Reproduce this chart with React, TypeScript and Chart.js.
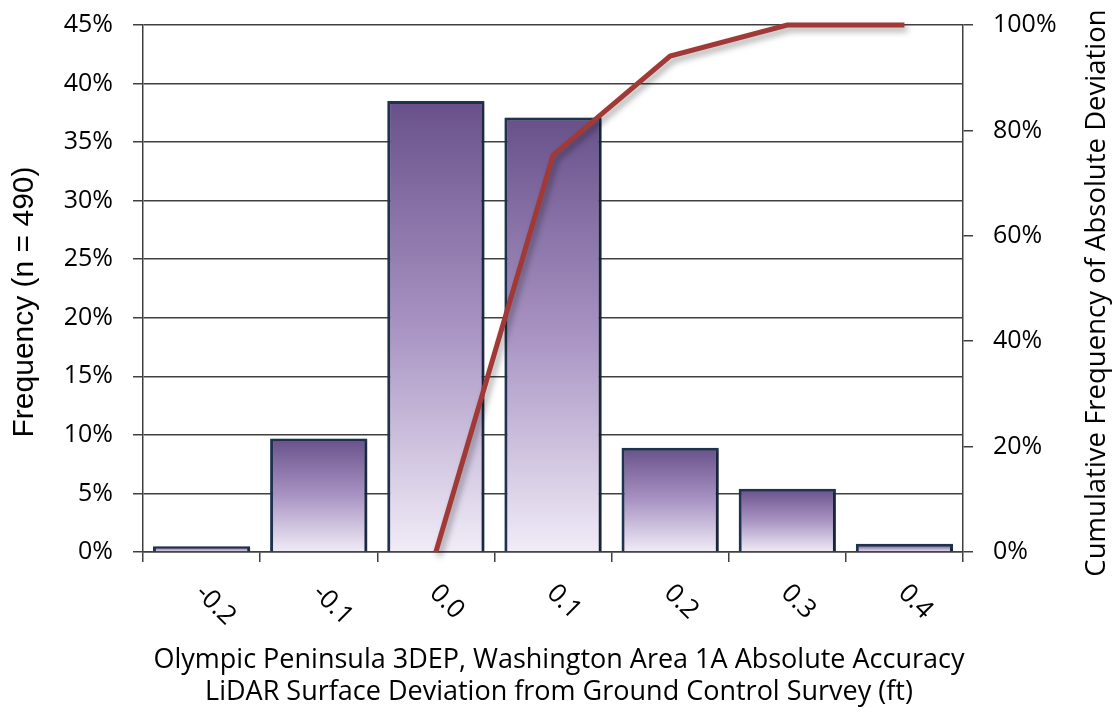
import React, { useEffect, useRef } from "react";
import { Chart, registerables } from "chart.js";

Chart.register(...registerables);

const categories = ["-0.2", "-0.1", "0.0", "0.1", "0.2", "0.3", "0.4"];
const frequency = [0.5, 9.7, 38.5, 37.1, 8.9, 5.4, 0.7];
const cumulative = [null, null, 0, 75.3, 94.1, 100, 100];
const xTitle = [
  "Olympic Peninsula 3DEP, Washington Area 1A Absolute Accuracy",
  "LiDAR Surface Deviation from Ground Control Survey (ft)",
];
const yTitle = "Frequency (n = 490)";
const y1Title = "Cumulative Frequency of Absolute Deviation";

const FONT = "'Open Sans', 'Noto Sans', sans-serif";

const shadowPlugin = {
  id: "shadows",
  beforeDatasetDraw(chart: any, args: any) {
    const ctx = chart.ctx;
    ctx.save();
    if (args.meta.type === "line") {
      ctx.shadowColor = "rgba(0,0,0,0.35)";
      ctx.shadowBlur = 6;
      ctx.shadowOffsetX = 3;
      ctx.shadowOffsetY = 4;
    } else {
      ctx.shadowColor = "rgba(0,0,0,0.45)";
      ctx.shadowBlur = 3;
      ctx.shadowOffsetX = 2;
      ctx.shadowOffsetY = 1;
    }
  },
  afterDatasetDraw(chart: any) {
    chart.ctx.restore();
  },
};

const labelPlugin = {
  id: "customLabels",
  afterDraw(chart: any) {
    const ctx = chart.ctx;
    const xs = chart.scales.x;
    const area = chart.chartArea;
    ctx.save();
    ctx.fillStyle = "#000";
    ctx.font = `26px ${FONT}`;
    ctx.textAlign = "left";
    ctx.textBaseline = "middle";
    categories.forEach((c, i) => {
      const px = xs.getPixelForValue(i);
      ctx.save();
      ctx.translate(px - 2, area.bottom + 37);
      ctx.rotate(Math.PI / 4);
      ctx.fillText(c, 0, 0);
      ctx.restore();
    });
    // x axis title (two lines)
    ctx.font = `27px ${FONT}`;
    ctx.textAlign = "center";
    xTitle.forEach((line, i) => {
      ctx.fillText(line, 559, 660 + i * 32);
    });
    // right axis title (reads bottom to top)
    ctx.font = `27.5px ${FONT}`;
    ctx.save();
    ctx.translate(1097, 293);
    ctx.rotate(-Math.PI / 2);
    ctx.textAlign = "center";
    ctx.fillText(y1Title, 0, 0);
    ctx.restore();
    // left axis title
    ctx.font = `30px 'Liberation Sans', Arial, sans-serif`;
    ctx.save();
    ctx.translate(25, 302);
    ctx.rotate(-Math.PI / 2);
    ctx.textAlign = "center";
    ctx.fillText(yTitle, 0, 0);
    ctx.restore();
    ctx.restore();
  },
};

function barGradient(context: any) {
  const chart = context.chart;
  if (!chart.chartArea || context.type !== "data") return "#9a88b8";
  const ys = chart.scales.y;
  const top = ys.getPixelForValue(context.raw);
  const bottom = ys.getPixelForValue(0);
  const g = chart.ctx.createLinearGradient(0, top, 0, bottom + 0.01);
  g.addColorStop(0, "#68518a");
  g.addColorStop(0.5, "#a893c3");
  g.addColorStop(1, "#f1ecf7");
  return g;
}

export default function App() {
  const ref = useRef<HTMLCanvasElement | null>(null);
  useEffect(() => {
    if (!ref.current) return;
    const chart = new Chart(ref.current, {
      type: "bar",
      data: {
        labels: categories,
        datasets: [
          {
            type: "line",
            data: cumulative as any,
            yAxisID: "y1",
            borderColor: "#a13a36",
            borderWidth: 5,
            pointRadius: 0,
            tension: 0,
            order: 0,
            clip: false as any,
            borderCapStyle: "butt",
          },
          {
            type: "bar",
            data: frequency,
            yAxisID: "y",
            backgroundColor: barGradient as any,
            borderColor: "#1f324f",
            borderWidth: 3,
            barPercentage: 0.83,
            categoryPercentage: 1,
            order: 1,
          },
        ],
      },
      options: {
        animation: false,
        responsive: true,
        maintainAspectRatio: false,
        layout: { padding: { top: 25, left: 0, right: 0, bottom: 0 } },
        plugins: { legend: { display: false }, tooltip: { enabled: false } },
        scales: {
          x: {
            type: "category",
            offset: true,
            grid: {
              display: true,
              offset: true,
              drawOnChartArea: false,
              drawTicks: true,
              tickLength: 10,
              color: "#404040",
              lineWidth: 1.5,
            },
            border: { display: true, color: "#404040", width: 1.5 },
            ticks: { display: false },
            afterFit(s: any) {
              s.height = 160;
              s.paddingLeft = 0;
              s.paddingRight = 0;
            },
          },
          y: {
            position: "left",
            min: 0,
            max: 45,
            ticks: {
              stepSize: 5,
              callback: (v: any) => v + "%",
              color: "#000",
              font: { family: FONT, size: 25 },
              padding: 20,
            },
            grid: {
              color: "#404040",
              lineWidth: 1.5,
              drawTicks: true,
              tickLength: 10,
            },
            border: { display: true, color: "#404040", width: 1.5 },
            afterFit(s: any) {
              s.width = 143;
              s.paddingTop = 0;
              s.paddingBottom = 0;
            },
          },
          y1: {
            position: "right",
            min: 0,
            max: 100,
            ticks: {
              stepSize: 20,
              callback: (v: any) => v + "%",
              color: "#000",
              font: { family: FONT, size: 25 },
              padding: 20,
            },
            grid: {
              drawOnChartArea: false,
              color: "#404040",
              lineWidth: 1.5,
              drawTicks: true,
              tickLength: 10,
            },
            border: { display: true, color: "#404040", width: 1.5 },
            afterFit(s: any) {
              s.width = 152;
              s.paddingTop = 0;
              s.paddingBottom = 0;
            },
          },
        },
      },
      plugins: [shadowPlugin, labelPlugin],
    });
    return () => chart.destroy();
  }, []);
  return (
    <div style={{ position: "absolute", left: 0, top: 0, width: 1115, height: 712, background: "#fff" }}>
      <canvas ref={ref} />
    </div>
  );
}
